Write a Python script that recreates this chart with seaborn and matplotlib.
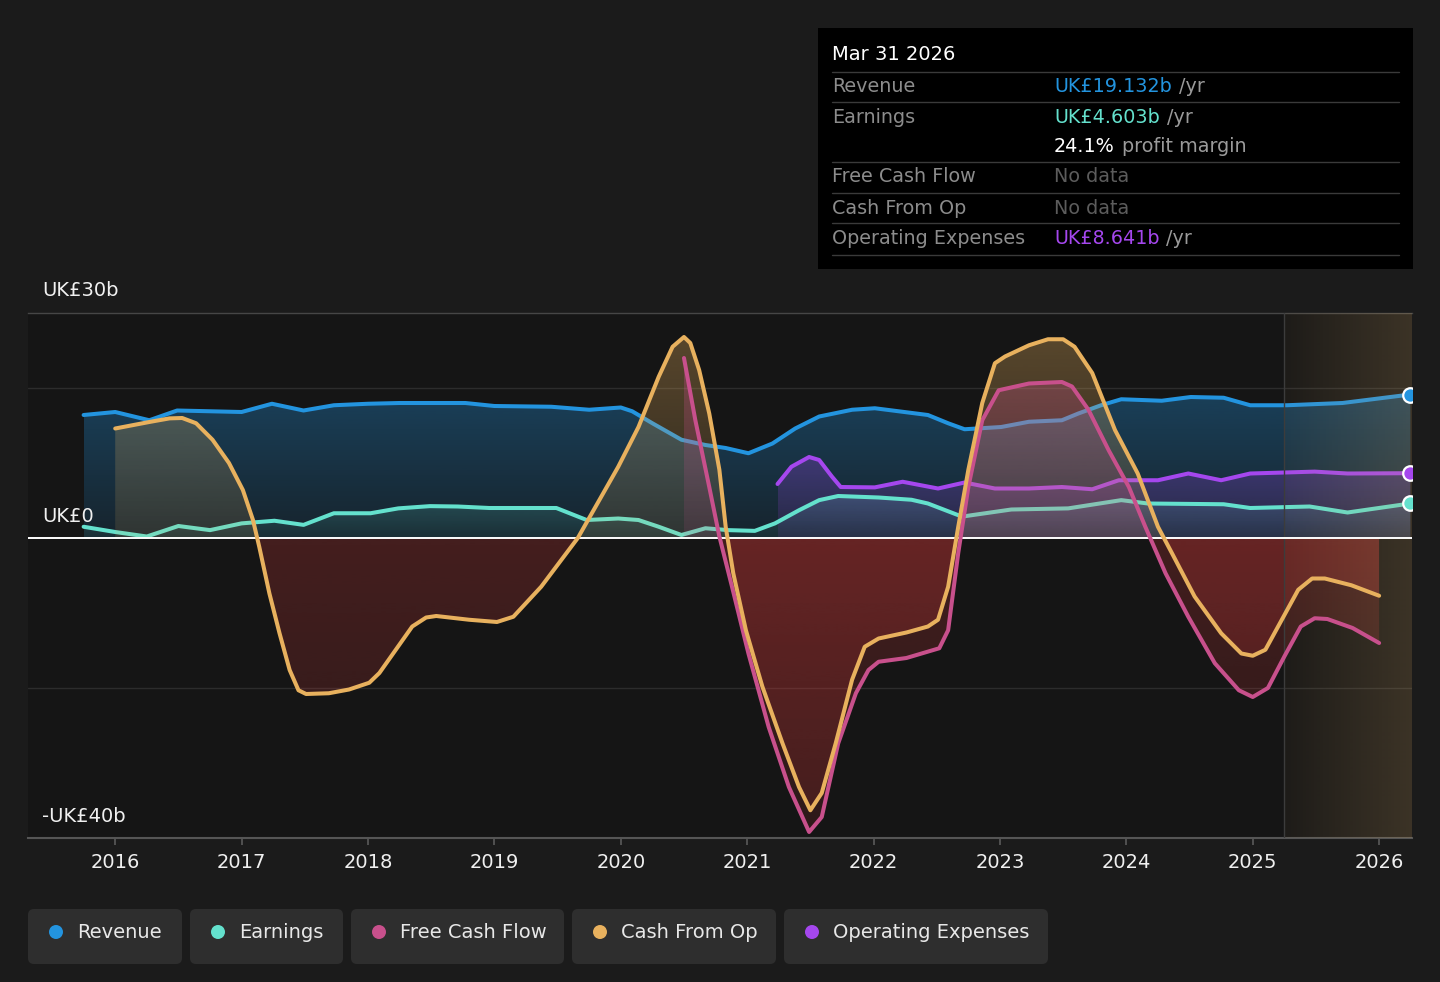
import matplotlib
matplotlib.use("Agg")

import numpy as np
import seaborn as sns
import matplotlib.pyplot as plt

from matplotlib.path import Path
from matplotlib.colors import to_rgb
from matplotlib.patches import FancyBboxPatch, Circle, Rectangle
from matplotlib.transforms import IdentityTransform
from matplotlib.lines import Line2D


# ------------------------------------------------
# Data (UK£ billions, time as decimal years)

revenue_t = [2015.75, 2016.0, 2016.27, 2016.49, 2017.0, 2017.24, 2017.49, 2017.73, 2018.0, 2018.25,
             2018.77, 2019.0, 2019.45, 2019.75, 2020.0, 2020.09, 2020.25, 2020.48, 2020.67, 2020.83,
             2021.01, 2021.2, 2021.38, 2021.57, 2021.83, 2022.01, 2022.43, 2022.59, 2022.72, 2023.01,
             2023.23, 2023.49, 2023.62, 2023.8, 2023.96, 2024.28, 2024.51, 2024.77, 2024.98, 2025.27,
             2025.71, 2026.247]
revenue_v = [16.4, 16.8, 15.7, 17.0, 16.8, 17.9, 17.0, 17.7, 17.9, 18.0,
             18.0, 17.6, 17.5, 17.1, 17.4, 16.9, 15.3, 13.1, 12.4, 12.0,
             11.3, 12.6, 14.6, 16.2, 17.1, 17.3, 16.4, 15.3, 14.5, 14.8,
             15.5, 15.7, 16.6, 17.7, 18.5, 18.3, 18.8, 18.7, 17.7, 17.7,
             18.0, 19.132]

earnings_t = [2015.75, 2016.0, 2016.25, 2016.5, 2016.75, 2017.0, 2017.26, 2017.49, 2017.73, 2018.02,
              2018.24, 2018.49, 2018.71, 2018.96, 2019.49, 2019.73, 2019.98, 2020.14, 2020.3, 2020.48,
              2020.67, 2020.85, 2021.06, 2021.22, 2021.41, 2021.57, 2021.72, 2022.04, 2022.3, 2022.43,
              2022.7, 2022.78, 2023.09, 2023.54, 2023.75, 2023.96, 2024.17, 2024.77, 2024.98, 2025.45,
              2025.75, 2026.247]
earnings_v = [1.5, 0.8, 0.2, 1.6, 1.05, 1.95, 2.3, 1.75, 3.3, 3.3,
              3.95, 4.25, 4.2, 4.0, 4.0, 2.4, 2.6, 2.4, 1.5, 0.4,
              1.3, 1.05, 0.95, 1.95, 3.7, 5.05, 5.6, 5.4, 5.1, 4.6,
              2.85, 3.05, 3.8, 3.95, 4.5, 5.05, 4.6, 4.5, 4.0, 4.2,
              3.4, 4.603]

opex_t = [2021.24, 2021.35, 2021.49, 2021.57, 2021.67, 2021.74, 2022.01, 2022.23, 2022.51, 2022.72,
          2022.96, 2023.23, 2023.49, 2023.73, 2023.94, 2024.25, 2024.49, 2024.75, 2024.98, 2025.49,
          2025.75, 2026.247]
opex_v = [7.2, 9.5, 10.8, 10.4, 8.2, 6.8, 6.75, 7.5, 6.6, 7.4,
          6.6, 6.6, 6.8, 6.5, 7.7, 7.7, 8.6, 7.7, 8.6, 8.85,
          8.6, 8.641]

cfo_t = [2016.0, 2016.28, 2016.43, 2016.53, 2016.64, 2016.77, 2016.9, 2017.01, 2017.09, 2017.14,
         2017.22, 2017.3, 2017.38, 2017.45, 2017.51, 2017.69, 2017.85, 2018.01, 2018.09, 2018.22,
         2018.35, 2018.46, 2018.54, 2018.8, 2019.02, 2019.15, 2019.37, 2019.66, 2019.98, 2020.14,
         2020.3, 2020.41, 2020.5, 2020.55, 2020.62, 2020.7, 2020.78, 2020.83, 2020.89, 2020.99,
         2021.12, 2021.28, 2021.41, 2021.5, 2021.59, 2021.7, 2021.83, 2021.93, 2022.04, 2022.26,
         2022.43, 2022.51, 2022.59, 2022.67, 2022.75, 2022.86, 2022.96, 2023.04, 2023.23, 2023.38,
         2023.5, 2023.59, 2023.73, 2023.91, 2024.09, 2024.25, 2024.36, 2024.54, 2024.75, 2024.91,
         2025.0, 2025.1, 2025.23, 2025.36, 2025.47, 2025.57, 2025.78, 2026.0]
cfo_v = [14.6, 15.5, 15.95, 16.0, 15.3, 13.1, 10.0, 6.4, 2.4, -1.2,
         -7.4, -12.7, -17.6, -20.3, -20.8, -20.7, -20.2, -19.3, -18.0, -14.9,
         -11.8, -10.6, -10.4, -10.9, -11.2, -10.5, -6.5, 0.0, 9.5, 14.8,
         21.5, 25.5, 26.8, 26.0, 22.4, 16.6, 9.1, 1.5, -4.7, -12.3,
         -19.8, -27.4, -33.2, -36.3, -34.0, -27.4, -18.9, -14.5, -13.4, -12.6,
         -11.8, -10.9, -6.5, 1.5, 9.1, 18.0, 23.3, 24.2, 25.7, 26.5,
         26.5, 25.5, 22.0, 14.4, 8.6, 1.5, -2.0, -7.8, -12.7, -15.4,
         -15.7, -14.9, -10.9, -6.9, -5.4, -5.4, -6.3, -7.7]

fcf_t = [2020.5, 2020.59, 2020.7, 2020.78, 2020.88, 2021.01, 2021.17, 2021.33, 2021.49, 2021.59,
         2021.72, 2021.86, 2021.96, 2022.04, 2022.26, 2022.52, 2022.59, 2022.67, 2022.75, 2022.86,
         2022.99, 2023.23, 2023.49, 2023.57, 2023.7, 2023.86, 2024.02, 2024.15, 2024.31, 2024.49,
         2024.7, 2024.89, 2025.0, 2025.12, 2025.25, 2025.38, 2025.49, 2025.59, 2025.79, 2026.0]
fcf_v = [24.0, 15.7, 6.8, 0.2, -6.5, -15.4, -25.2, -33.2, -39.2, -37.2,
         -27.4, -20.7, -17.6, -16.5, -16.0, -14.7, -12.3, -2.0, 6.8, 15.7,
         19.7, 20.6, 20.8, 20.2, 17.1, 11.7, 6.8, 1.5, -4.7, -10.5,
         -16.7, -20.3, -21.2, -20.0, -15.8, -11.8, -10.7, -10.8, -12.0, -14.0]

forecast_start = 2025.25
year_ticks = list(range(2016, 2027))
y_labels = {30: "UK£30b", 0: "UK£0", -40: "-UK£40b"}

legend_names = ["Revenue", "Earnings", "Free Cash Flow", "Cash From Op", "Operating Expenses"]

# ------------------------------------------------
# Style

W, H = 1440, 982
BG = "#1b1b1b"
PLOT_BG = "#151515"
C_REV = "#2394df"
C_EARN = "#64e1cd"
C_FCF = "#c8508c"
C_CFO = "#e8b15e"
C_OPEX = "#a547ee"
C_NEG = "#d43a3a"
LW = 2.9

sns.set_style("dark")
plt.rcParams["font.family"] = ["DejaVu Sans"]

fig = plt.figure(figsize=(W / 100, H / 100), dpi=100, facecolor=BG)
ax = fig.add_axes([28 / W, 1 - 838 / H, (1412 - 28) / W, (838 - 313) / H])
ax.set_facecolor(PLOT_BG)


# ------------------------------------------------
# Defs

def gradient_fill(t, v, color, z, a_far, a_zero, sign):
    t = np.asarray(t, float)
    v = np.asarray(v, float)
    mask = v >= 0 if sign > 0 else v <= 0
    if sign > 0:
        lo, hi = 0.0, v.max()
    else:
        lo, hi = v.min(), 0.0
    if not mask.any() or hi <= lo:
        return
    coll = ax.fill_between(t, v, 0, where=mask, interpolate=True,
                           facecolor="none", edgecolor="none", lw=0)
    path = Path.make_compound_path(*coll.get_paths())
    rgba = np.zeros((256, 1, 4))
    rgba[..., :3] = to_rgb(color)
    if sign > 0:
        rgba[:, 0, 3] = np.linspace(a_far, a_zero, 256)
    else:
        rgba[:, 0, 3] = np.linspace(a_zero, a_far, 256)
    im = ax.imshow(rgba, extent=[t.min(), t.max(), lo, hi], aspect="auto",
                   origin="upper", zorder=z, interpolation="bilinear")
    im.set_clip_path(path, transform=ax.transData)


def draw_line(t, v, color, z):
    sns.lineplot(x=t, y=v, color=color, lw=LW, ax=ax, zorder=z, sort=False,
                 solid_joinstyle="round", solid_capstyle="round")


# ------------------------------------------------
# Series

gradient_fill(revenue_t, revenue_v, C_REV, 1.0, 0.34, 0.12, 1)
draw_line(revenue_t, revenue_v, C_REV, 2.0)

gradient_fill(earnings_t, earnings_v, C_EARN, 1.1, 0.2, 0.06, 1)
draw_line(earnings_t, earnings_v, C_EARN, 2.1)

gradient_fill(opex_t, opex_v, C_OPEX, 1.2, 0.28, 0.1, 1)
draw_line(opex_t, opex_v, C_OPEX, 2.2)

gradient_fill(cfo_t, cfo_v, C_CFO, 3.0, 0.32, 0.12, 1)
gradient_fill(cfo_t, cfo_v, C_NEG, 3.0, 0.14, 0.25, -1)
gradient_fill(fcf_t, fcf_v, C_FCF, 3.1, 0.32, 0.12, 1)
gradient_fill(fcf_t, fcf_v, C_NEG, 3.1, 0.13, 0.24, -1)

# forecast shading
shade = np.zeros((1, 256, 4))
shade[..., :3] = (200 / 255, 160 / 255, 100 / 255)
shade[0, :, 3] = np.linspace(0.05, 0.22, 256)
ax.imshow(shade, extent=[forecast_start, 2026.26, -40, 30], aspect="auto",
          zorder=4.5, interpolation="bilinear")
ax.axvline(forecast_start, color="#3c3c3c", lw=1, zorder=4.6)

ax.axhline(0, color="white", lw=1.4, zorder=4.8)
for g in (20, -20):
    ax.axhline(g, color="#2c2c2c", lw=1, zorder=0.5)

draw_line(fcf_t, fcf_v, C_FCF, 5.0)
draw_line(cfo_t, cfo_v, C_CFO, 5.1)

# end markers
for t, v, c in [(revenue_t, revenue_v, C_REV), (opex_t, opex_v, C_OPEX),
                (earnings_t, earnings_v, C_EARN)]:
    ax.scatter([t[-1]], [v[-1]], s=110, color=c, edgecolor="white",
               linewidth=1.6, zorder=7)

# ------------------------------------------------
# Axes

ax.set_xlim(2015.31, 2026.26)
ax.set_ylim(-40, 30)
ax.set_xlabel("")
ax.set_ylabel("")
ax.set_xticks(year_ticks)
ax.set_xticklabels([str(y) for y in year_ticks])
ax.set_yticks([])
ax.tick_params(axis="x", colors="#5a5a5a", length=5, width=1.2, pad=6,
               labelcolor="#f0f0f0", labelsize=14, bottom=True)
for side in ("left", "right"):
    ax.spines[side].set_visible(False)
ax.spines["bottom"].set_color("#555555")
ax.spines["bottom"].set_linewidth(1.5)
ax.spines["top"].set_color("#464646")
ax.spines["top"].set_linewidth(1.0)
ax.grid(False)

for val, lbl in y_labels.items():
    ax.annotate(lbl, xy=(0, val), xycoords=("axes fraction", "data"),
                xytext=(14, 22), textcoords="offset pixels",
                va="center", ha="left", color="#f0f0f0", fontsize=14, zorder=8)

# ------------------------------------------------
# Tooltip box

def fx(x):
    return x / W


def fy(y):
    return 1 - y / H


fig.add_artist(Rectangle((fx(818), fy(269)), (1413 - 818) / W, (269 - 28) / H,
                         transform=fig.transFigure, facecolor="black",
                         edgecolor="none", zorder=10))
for yy in (72, 102, 162, 193, 223, 255):
    fig.add_artist(Line2D([fx(832), fx(1399)], [fy(yy), fy(yy)],
                          transform=fig.transFigure, color="#3a3a3a", lw=1, zorder=11))

fig.text(fx(832), fy(55), "Mar 31 2026", color="white", fontsize=14,
         va="center", ha="left", zorder=12)

GREY = "#8c8c8c"
rows = [
    (87, "Revenue", [("UK£19.132b", C_REV), ("/yr", "#9a9a9a")]),
    (117, "Earnings", [("UK£4.603b", C_EARN), ("/yr", "#9a9a9a")]),
    (147, "", [("24.1%", "white"), ("profit margin", "#9a9a9a")]),
    (177, "Free Cash Flow", [("No data", "#5c5c5c")]),
    (208, "Cash From Op", [("No data", "#5c5c5c")]),
    (238, "Operating Expenses", [("UK£8.641b", C_OPEX), ("/yr", "#9a9a9a")]),
]

renderer = fig.canvas.get_renderer()
for yy, label, parts in rows:
    if label:
        fig.text(fx(832), fy(yy), label, color=GREY, fontsize=13.8,
                 va="center", ha="left", zorder=12)
    xx = 1054
    for txt, col in parts:
        tt = fig.text(fx(xx), fy(yy), txt, color=col, fontsize=13.8,
                      va="center", ha="left", zorder=12)
        xx += tt.get_window_extent(renderer).width + 7

# ------------------------------------------------
# Legend pills

pill_x = [(28, 182), (190, 343), (351, 564), (572, 776), (784, 1048)]
pill_c = [C_REV, C_EARN, C_FCF, C_CFO, C_OPEX]
for (x0, x1), name, col in zip(pill_x, legend_names, pill_c):
    fig.add_artist(FancyBboxPatch((x0, H - 964), x1 - x0, 55,
                                  boxstyle="round,pad=0,rounding_size=6",
                                  transform=IdentityTransform(),
                                  facecolor="#2e2e2e", edgecolor="none", zorder=10))
    fig.add_artist(Circle((x0 + 28, H - 932), 7, transform=IdentityTransform(),
                          facecolor=col, edgecolor="none", zorder=11))
    fig.text(fx(x0 + 49), fy(933), name, color="#e8e8e8", fontsize=14,
             va="center", ha="left", zorder=12)

fig.savefig("out.png", dpi=100, facecolor=fig.get_facecolor())
